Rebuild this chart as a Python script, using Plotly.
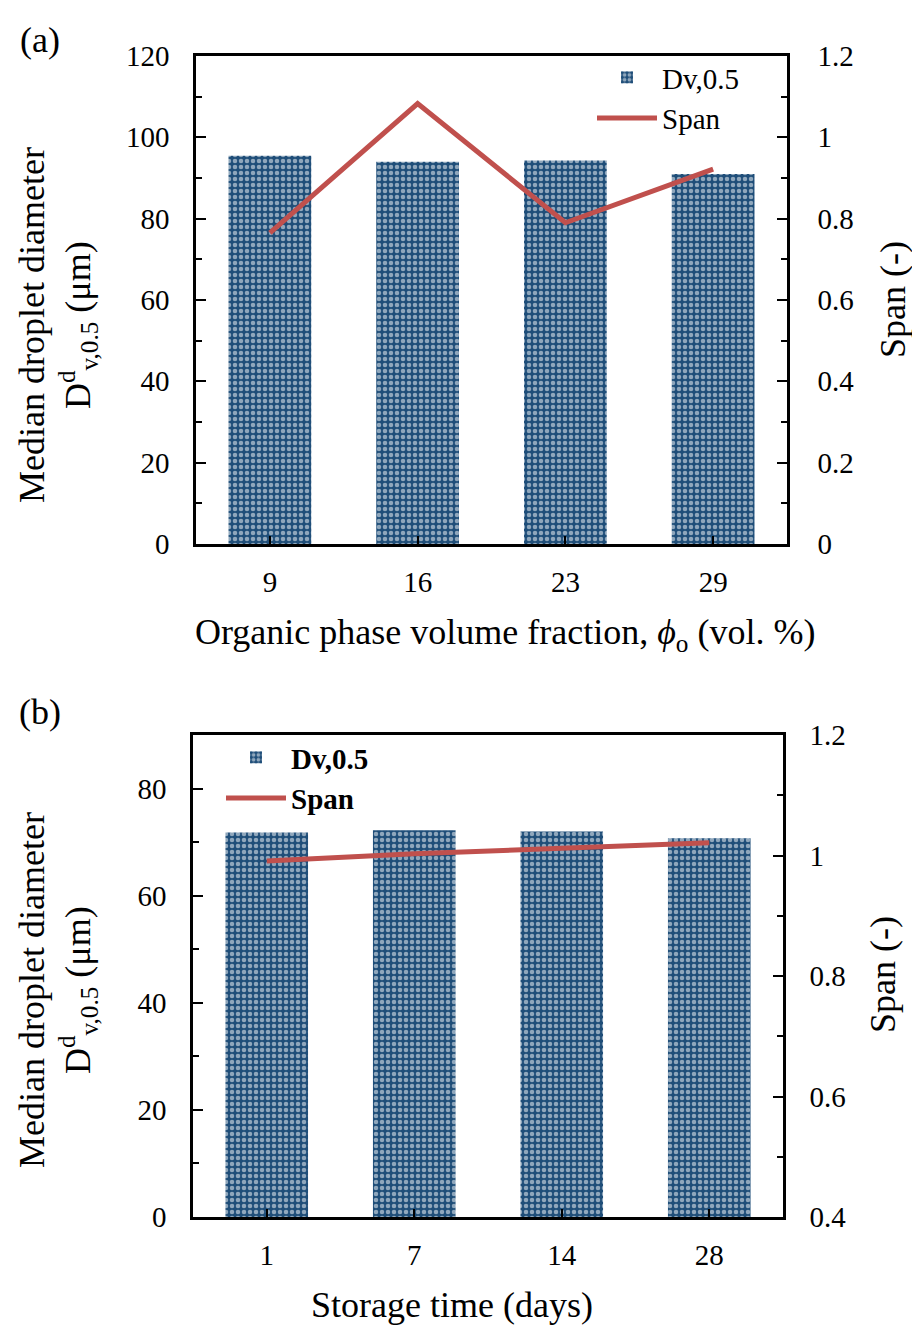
import plotly.graph_objects as go

W, H = 912, 1327

# ---- data ----
cats_a = ["9", "16", "23", "29"]
dv_a = [95.5, 94.0, 94.3, 91.0]
span_a = [0.765, 1.083, 0.79, 0.922]

cats_b = ["1", "7", "14", "28"]
dv_b = [71.8, 72.2, 72.0, 70.7]
span_b = [0.991, 1.003, 1.012, 1.021]

BAR = "#1F4E79"
LINE = "#C0504D"
FONT = "Liberation Serif, Times New Roman, serif"

def px(x):
    return x / W

def py(y):
    return 1 - y / H

fig = go.Figure()

pattern = dict(shape=".", bgcolor=BAR, fgcolor="white", size=6, solidity=0.45, fillmode="overlay")

fig.add_trace(go.Bar(x=cats_a, y=dv_a, name="Dv,0.5", xaxis="x", yaxis="y",
                     marker=dict(color=BAR, pattern=pattern, line=dict(width=0)),
                     legend="legend"))
fig.add_trace(go.Scatter(x=cats_a, y=span_a, name="Span", xaxis="x", yaxis="y2",
                         mode="lines", line=dict(color=LINE, width=5),
                         legend="legend"))
fig.add_trace(go.Bar(x=cats_b, y=dv_b, name="<b>Dv,0.5</b>", xaxis="x2", yaxis="y3",
                     marker=dict(color=BAR, pattern=pattern, line=dict(width=0)),
                     legend="legend2"))
fig.add_trace(go.Scatter(x=cats_b, y=span_b, name="<b>Span</b>", xaxis="x2", yaxis="y4",
                         mode="lines", line=dict(color=LINE, width=5),
                         legend="legend2"))

TF = dict(family=FONT, size=29, color="black")

def xax(domain, anchor):
    return dict(domain=domain, anchor=anchor, type="category", showline=True, linecolor="black",
                linewidth=2.5, mirror=True, ticks="inside", ticklen=8, tickwidth=2,
                tickcolor="black", tickfont=TF, ticklabelstandoff=10, showgrid=False,
                zeroline=False, automargin=False)

def yax(domain, anchor, rng, dtick, side="left", overlaying=None, minor=None, standoff=18):
    d = dict(domain=domain, anchor=anchor, range=rng, dtick=dtick, side=side, showline=True,
             linecolor="black", linewidth=2.5, ticks="inside", ticklen=10, tickwidth=2,
             tickcolor="black", tickfont=TF, ticklabelstandoff=standoff, showgrid=False,
             zeroline=False, automargin=False,
             minor=dict(ticks="inside", ticklen=6, tickwidth=2,
                        tickcolor="black", dtick=minor, showgrid=False))
    if overlaying:
        d["overlaying"] = overlaying
    return d

dom_xa = [px(196), px(787)]
dom_ya = [py(544), py(56)]
dom_xb = [px(193), px(783)]
dom_yb = [py(1217), py(735)]

fig.update_layout(
    width=W, height=H,
    margin=dict(l=0, r=0, t=0, b=0, pad=0, autoexpand=False),
    paper_bgcolor="white", plot_bgcolor="white",
    font=dict(family=FONT, color="black", size=29),
    bargap=0.44,
    xaxis=xax(dom_xa, "y"),
    yaxis=yax(dom_ya, "x", [0, 120], 20, minor=10),
    yaxis2=yax(dom_ya, "x", [0, 1.2], 0.2, side="right", overlaying="y", minor=0.1, standoff=22),
    xaxis2=xax(dom_xb, "y3"),
    yaxis3=yax(dom_yb, "x2", [0, 90], 20, minor=10),
    yaxis4=yax(dom_yb, "x2", [0.4, 1.2], 0.2, side="right", overlaying="y3", minor=0.1, standoff=18),
    legend=dict(x=px(592), y=py(52), xanchor="left", yanchor="top", bgcolor="rgba(0,0,0,0)",
                font=dict(family=FONT, size=29), tracegroupgap=0, itemwidth=60),
    legend2=dict(x=px(221), y=py(732), xanchor="left", yanchor="top", bgcolor="rgba(0,0,0,0)",
                 font=dict(family=FONT, size=29), tracegroupgap=0, itemwidth=60),
    showlegend=True,
)

ann_font = dict(family=FONT, size=36, color="black")
annos = [
    dict(text="(a)", x=px(40), y=py(40)),
    dict(text="(b)", x=px(40), y=py(712)),
    dict(text="Median droplet diameter", x=px(32), y=py(325), textangle=-90),
    dict(text="D<sup>d</sup><sub>v,0.5</sub> (μm)", x=px(78), y=py(325), textangle=-90),
    dict(text="Span (-)", x=px(893), y=py(300), textangle=-90),
    dict(text="Organic phase volume fraction, <i>ϕ</i><sub>o</sub> (vol. %)", x=px(505), y=py(634)),
    dict(text="Median droplet diameter", x=px(32), y=py(990), textangle=-90),
    dict(text="D<sup>d</sup><sub>v,0.5</sub> (μm)", x=px(78), y=py(990), textangle=-90),
    dict(text="Span (-)", x=px(883), y=py(975), textangle=-90),
    dict(text="Storage time (days)", x=px(452), y=py(1305)),
]
for a in annos:
    fig.add_annotation(xref="paper", yref="paper", showarrow=False, xanchor="center",
                       yanchor="middle", font=ann_font, **a)

fig.write_html("out.html")
